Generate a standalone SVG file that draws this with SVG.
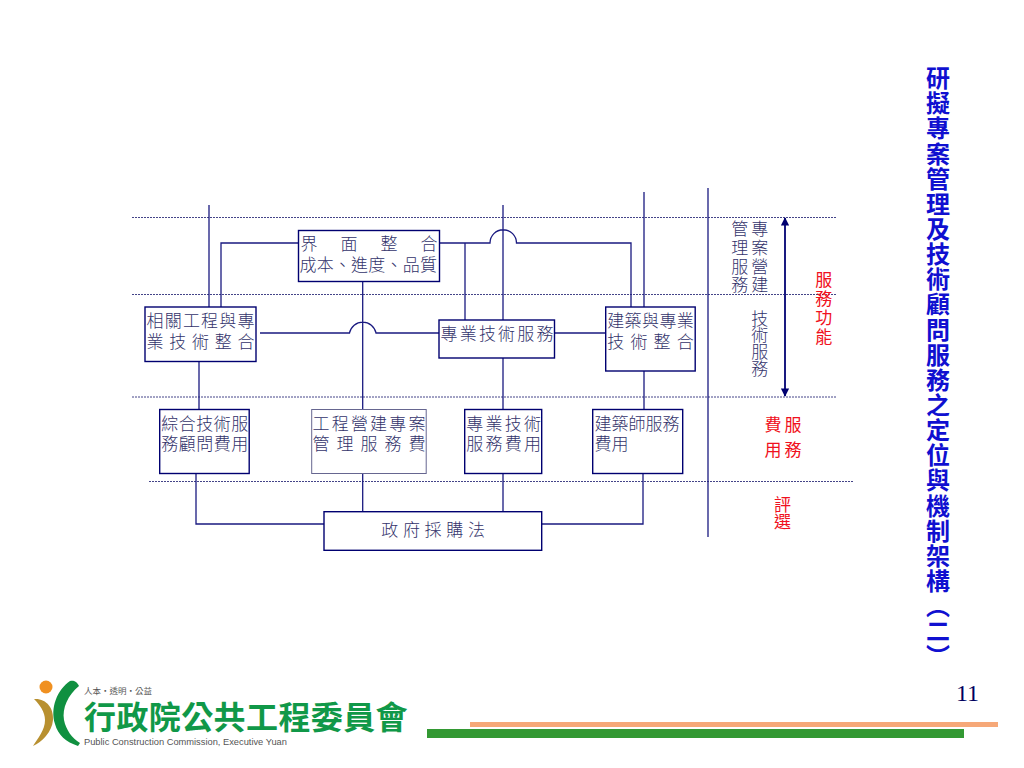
<svg xmlns="http://www.w3.org/2000/svg" width="1024" height="768" viewBox="0 0 1024 768">
<style>
text{font-family:"Noto Sans CJK TC","Noto Sans CJK SC",sans-serif}
.t{font-size:17px;fill:#33336b;font-weight:300}
.r{font-size:17px;fill:#f01020}
.box{fill:#fff;stroke:#000070;stroke-width:1.4}
.ln{fill:none;stroke:#1a1a80;stroke-width:1.3}
.ds{fill:none;stroke:#444488;stroke-width:1;stroke-dasharray:2 1}
</style>
<defs>
<marker id="a" viewBox="0 0 10 10" refX="9" refY="5" markerWidth="4.2" markerHeight="4.2" orient="auto-start-reverse"><path d="M0 0L10 5L0 10z" fill="#000070"/></marker>
</defs>
<rect width="1024" height="768" fill="#fff"/>
<g id="guides">
<path class="ds" d="M132 217.500H836M132 294.500H836M132 397H836M149 481.500H853"/>
</g>
<g id="connectors">
<path class="ln" d="M209 205V307M221 307V243H298M439 243H490A13 13 0 0 1 516.500 243H631V307M465 243V320M503 205V320M644 192V307M362.700 281V512M260 333H349.500A13.500 13.500 0 0 1 376 333H439M554 333H606M199 361V409M503 358V409M644 371V409M196 473V524H324M362.700 473V512M503 473V512M643 473V524H542"/>
<path class="ln" d="M708 188V537"/>
<path d="M785 218V396" fill="none" stroke="#1a1a80" stroke-width="2" marker-start="url(#a)" marker-end="url(#a)"/>
</g>
<g id="n-interface"><rect class="box" x="298.500" y="230.500" width="141" height="51"/>
<text class="t"><tspan x="300.500 340.500 380.500 420.500" y="249.500">界面整合</tspan><tspan x="299.500 316.700 333.900 351.100 368.300 385.500 402.700 419.900" y="270.500">成本、進度、品質</tspan></text></g>
<g id="n-related"><rect class="box" x="145" y="307" width="111" height="54.500"/>
<text class="t"><tspan x="146.500 164.700 182.900 201.100 219.300 237.500" y="326.500">相關工程與專</tspan><tspan x="146.500 169.300 192 214.800 237.500" y="347.500">業技術整合</tspan></text></g>
<g id="n-tech"><rect class="box" x="439" y="320" width="115.500" height="38"/>
<text class="t" x="440.500 459.700 478.900 498.100 517.300 536.500" y="339.500">專業技術服務</text></g>
<g id="n-arch"><rect class="box" x="605.700" y="307" width="89.500" height="64"/>
<text class="t"><tspan x="607.200 624.600 642 659.400 676.800" y="326.500">建築與專業</tspan><tspan x="607.200 630.400 653.600 676.800" y="347.500">技術整合</tspan></text></g>
<g id="n-fee1"><rect class="box" x="159.700" y="409.500" width="89.500" height="64"/>
<text class="t"><tspan x="161.200 178.700 196.200 213.700 231.200" y="429.500">綜合技術服</tspan><tspan x="161.200 178.700 196.200 213.700 231.200" y="450">務顧問費用</tspan></text></g>
<g id="n-fee2"><rect x="311.700" y="409.500" width="114.500" height="64" fill="#fff" stroke="#666690" stroke-width="1"/>
<text class="t"><tspan x="312.500 331.700 350.900 370.100 389.300 408.500" y="429.500">工程營建專案</tspan><tspan x="312.500 336.500 360.500 384.500 408.500" y="450">管理服務費</tspan></text></g>
<g id="n-fee3"><rect class="box" x="464.700" y="409.500" width="77" height="64"/>
<text class="t"><tspan x="466.200 485.500 504.800 524.100" y="429.500">專業技術</tspan><tspan x="466.200 485.500 504.800 524.100" y="450">服務費用</tspan></text></g>
<g id="n-fee4"><rect class="box" x="592.700" y="409.500" width="90" height="64"/>
<text class="t"><tspan x="594.500 611.500 628.500 645.500 662.500" y="429.500">建築師服務</tspan><tspan x="594.500 611.500" y="450">費用</tspan></text></g>
<g id="n-law"><rect class="box" x="324" y="511.700" width="217.700" height="38.600"/>
<text class="t" x="381.200 402.900 424.600 446.300 468" y="535.500">政府採購法</text></g>
<g id="labels">
<text class="t" x="751.200 751.200 751.200 751.200" y="234.500 253.800 273.100 290.500">專案營建</text>
<text class="t" x="731.200 731.200 731.200 731.200" y="234.500 253.800 273.100 290.500">管理服務</text>
<text class="t" x="751.200 751.200 751.200 751.200" y="324.500 341.200 357.900 374.500">技術服務</text>
<text class="r" x="815.200 815.200 815.200 815.200" y="285.500 304.500 323.500 342.500">服務功能</text>
<text class="r"><tspan x="764.500 784.500" y="430.500">費服</tspan><tspan x="764.500 784.500" y="456">用務</tspan></text>
<text class="r" x="774 774" y="510.500 527.500">評選</text>
</g>
<text id="title" x="938" y="66" font-size="24" font-weight="700" fill="#1010d0" letter-spacing="1.14" style="writing-mode:vertical-rl">研擬專案管理及技術顧問服務之定位與機制架構（二）</text>
<text id="page" x="956" y="701" font-size="24" fill="#000060" style="font-family:'Liberation Serif',serif">11</text>
<g id="footer"><rect x="470" y="722" width="528" height="5" fill="#f6a878"/><rect x="427" y="729" width="537" height="9" fill="#339933"/></g>
<g id="logo">
<circle cx="46" cy="687" r="6.500" fill="#f09020"/>
<path d="M34 699C46 698 54 708 53 720C52 732 42 742 33 746C38 738 45 730 45 720C45 712 40 705 34 699Z" fill="#b89030"/>
<path d="M70 681C57 690 50 708 55 724C58 735 66 742 78 746L80 743C72 738 66 730 64 720C62 708 68 695 79 686C77 681 73 680 70 681Z" fill="#109040"/>
<text><tspan x="84" y="694" font-size="8.500" fill="#555">人本・透明・公益</tspan><tspan x="84 116.400 148.800 181.200 213.600 246 278.400 310.800 343.200 375.600" y="729" font-size="32" font-weight="700" fill="#109848">行政院公共工程委員會</tspan><tspan x="84" y="745" font-size="9.300" fill="#555" style="font-family:'Liberation Sans',sans-serif">Public Construction Commission, Executive Yuan</tspan></text>
</g>
</svg>
